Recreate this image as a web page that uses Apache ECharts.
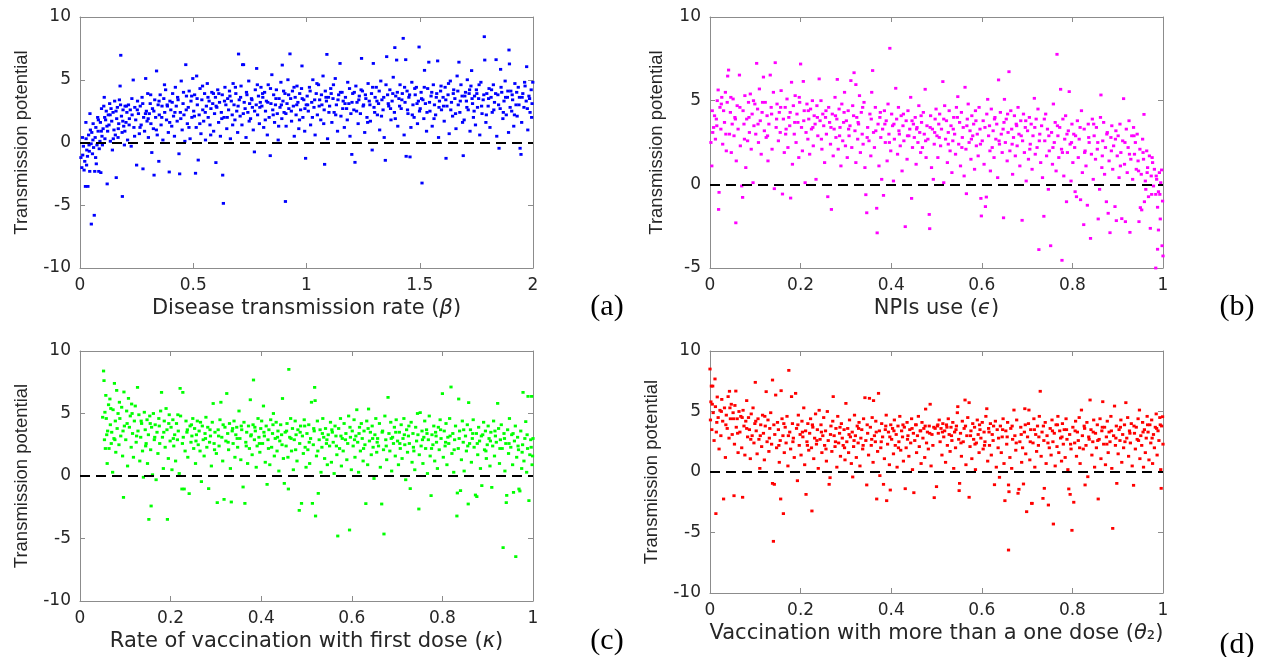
<!DOCTYPE html>
<html><head><meta charset="utf-8">
<script src="https://cdn.jsdelivr.net/npm/echarts@6/dist/echarts.min.js"></script>
<style>html,body{margin:0;padding:0;background:#fff}#c{width:1265px;height:657px}</style>
</head><body><div id="c"></div>
<script>
// ---------- data ----------
const panelTags = ['(a)', '(b)', '(c)', '(d)'];
const yTitle = 'Transmission potential';
const xTitles = [
  'Disease transmission rate ({i|β})',
  'NPIs use ({i|ϵ})',
  'Rate of vaccination with first dose ({i|κ})',
  'Vaccination with more than a one dose ({i|θ}₂)'
];
const xRanges = [[0, 2, 0.5], [0, 1, 0.2], [0, 1, 0.2], [0, 1, 0.2]];
const yRanges = [[-10, 10, 5], [-5, 10, 5], [-10, 10, 5], [-10, 10, 5]];
const seriesColors = ['#0000ff', '#ff00ff', '#00ff00', '#ff0000'];
const refLevel = 0;

const ptsA = [
[0.004,-1.2],[0.008,-2.0],[0.012,-1.0],[0.015,-0.3],[0.018,-2.2],[0.021,-1.5],[0.024,-3.5],[0.027,0.3],[0.03,-0.6],[0.033,-1.1],[0.035,-3.5],[0.038,0.6],[0.04,-0.2],[0.043,-2.3],[0.046,1.0],[0.049,-0.1],[0.05,-6.5],[0.052,0.8],[0.055,-0.9],[0.058,1.5],[0.06,-0.4],[0.063,-5.8],[0.065,-2.3],[0.067,0.4],[0.07,1.2],[0.072,-1.7],[0.075,-0.2],[0.078,2.0],[0.08,0.9],[0.083,-2.3],[0.085,-0.5],[0.088,0.1],[0.09,1.6],[0.092,-2.4],[0.095,2.7],[0.097,0.5],[0.099,-0.2],[0.044,2.3],[0.026,1.6],
[0.102,1.1],[0.105,2.9],[0.107,3.6],[0.11,0.3],[0.113,1.8],[0.116,2.5],[0.12,-3.3],[0.122,0.9],[0.125,2.2],[0.128,1.4],[0.131,3.1],[0.134,0.1],[0.137,2.7],[0.14,1.7],[0.143,-0.6],[0.146,2.4],[0.15,1.0],[0.153,3.3],[0.156,0.6],[0.16,-2.8],[0.162,1.9],[0.165,2.8],[0.168,0.4],[0.171,1.5],[0.174,3.4],[0.177,4.5],[0.18,6.95],[0.183,2.1],[0.186,0.8],[0.187,-4.3],[0.19,2.6],[0.193,1.3],[0.196,-0.2],[0.199,2.9],
[0.203,1.6],[0.207,2.4],[0.21,0.2],[0.214,3.0],[0.218,1.9],[0.222,2.6],[0.226,-0.3],[0.23,2.2],[0.235,4.98],[0.238,1.2],[0.242,2.8],[0.246,1.8],[0.25,-1.8],[0.254,3.3],[0.258,2.3],[0.262,0.7],[0.266,2.9],[0.27,1.4],[0.274,3.6],[0.278,-2.1],[0.281,2.0],[0.285,0.9],[0.29,5.1],[0.293,2.5],[0.296,1.7],[0.299,3.9],
[0.302,0.4],[0.306,2.3],[0.31,3.1],[0.313,1.5],[0.317,-0.8],[0.32,2.7],[0.324,1.1],[0.327,-2.6],[0.33,3.4],[0.334,2.0],[0.338,5.7],[0.341,0.6],[0.345,3.0],[0.348,-1.5],[0.35,2.2],[0.354,3.8],[0.358,1.4],[0.362,2.9],[0.366,0.2],[0.37,3.5],[0.374,2.4],[0.378,4.2],[0.382,1.8],[0.386,2.9],[0.39,0.8],[0.394,-2.35],[0.397,3.3],
[0.401,2.6],[0.405,1.3],[0.409,3.9],[0.413,2.1],[0.417,0.5],[0.421,4.4],[0.425,2.9],[0.429,1.7],[0.433,3.4],[0.437,-0.9],[0.44,-2.5],[0.443,2.4],[0.447,4.9],[0.451,1.0],[0.455,3.1],[0.459,2.2],[0.463,0.1],[0.467,6.2],[0.47,3.7],[0.474,1.5],[0.478,2.8],[0.482,4.1],[0.486,0.3],[0.49,3.3],[0.494,2.0],[0.498,5.1],
[0.502,2.5],[0.506,3.8],[0.51,-2.45],[0.513,1.2],[0.515,5.3],[0.518,3.0],[0.522,-1.4],[0.526,2.2],[0.53,4.3],[0.534,0.7],[0.538,3.4],[0.542,2.6],[0.546,1.7],[0.55,3.9],[0.554,0.2],[0.558,2.9],[0.562,4.7],[0.566,2.0],[0.57,3.3],[0.574,1.4],[0.578,2.7],[0.582,4.0],[0.586,3.1],[0.59,0.9],[0.594,2.3],[0.598,3.6],
[0.6,-1.6],[0.604,2.8],[0.608,4.2],[0.612,1.6],[0.616,3.2],[0.62,0.5],[0.624,2.4],[0.628,3.8],[0.63,-2.6],[0.633,-4.85],[0.636,2.0],[0.64,4.4],[0.644,3.0],[0.648,1.1],[0.652,3.5],[0.656,2.6],[0.66,4.1],[0.664,0.3],[0.668,3.3],[0.672,2.2],[0.676,4.7],[0.68,3.0],[0.684,1.8],[0.688,3.9],[0.692,2.5],[0.696,0.8],[0.7,7.05],
[0.703,3.4],[0.707,2.1],[0.711,4.5],[0.715,1.4],[0.718,6.2],[0.722,6.2],[0.725,3.2],[0.729,2.7],[0.733,0.4],[0.737,3.8],[0.741,2.4],[0.745,4.9],[0.749,3.1],[0.753,1.9],[0.757,3.5],[0.761,2.8],[0.765,1.0],[0.77,-0.75],[0.774,4.2],[0.778,3.0],[0.78,5.9],[0.784,2.2],[0.788,3.7],[0.792,1.5],[0.796,3.2],[0.799,4.4],
[0.803,2.9],[0.807,3.6],[0.811,1.2],[0.815,4.0],[0.819,2.5],[0.823,3.3],[0.827,0.6],[0.831,4.6],[0.835,2.0],[0.84,-1.05],[0.843,3.1],[0.847,5.4],[0.851,2.6],[0.855,3.8],[0.859,1.6],[0.863,3.0],[0.867,4.2],[0.871,2.3],[0.875,0.2],[0.879,3.5],[0.883,2.8],[0.887,4.8],[0.891,1.9],[0.893,6.17],[0.896,3.3],
[0.901,2.4],[0.905,3.9],[0.907,-4.7],[0.91,1.3],[0.914,3.1],[0.918,5.0],[0.922,2.7],[0.927,7.06],[0.93,3.5],[0.934,1.7],[0.938,4.1],[0.942,2.9],[0.946,0.5],[0.95,3.6],[0.954,2.2],[0.958,4.5],[0.962,3.2],[0.966,1.1],[0.97,3.9],[0.974,2.6],[0.978,4.3],[0.98,6.1],[0.984,2.0],[0.988,3.4],[0.992,0.9],[0.996,-1.26],[0.999,3.0],
[1.003,3.7],[1.008,2.5],[1.013,4.4],[1.018,1.4],[1.023,3.2],[1.028,5.0],[1.033,2.8],[1.038,0.6],[1.043,3.9],[1.048,2.2],[1.053,4.6],[1.058,3.4],[1.063,1.8],[1.068,3.0],[1.073,5.3],[1.078,2.6],[1.08,-1.74],[1.083,4.1],[1.088,3.3],[1.09,7.02],[1.093,0.3],[1.097,3.6],
[1.102,2.9],[1.107,4.3],[1.112,1.6],[1.117,3.5],[1.122,2.4],[1.127,5.1],[1.132,3.0],[1.137,0.9],[1.142,3.8],[1.148,6.3],[1.152,2.1],[1.157,4.0],[1.162,3.3],[1.167,1.2],[1.172,3.6],[1.177,2.7],[1.182,4.8],[1.187,3.1],[1.192,0.5],[1.196,2.3],[1.2,-0.95],
[1.204,3.9],[1.209,2.6],[1.214,-1.58],[1.218,4.5],[1.223,3.2],[1.228,1.5],[1.233,3.7],[1.238,2.3],[1.243,6.7],[1.247,4.1],[1.252,3.0],[1.257,0.8],[1.262,3.5],[1.267,2.0],[1.272,4.7],[1.277,3.3],[1.282,1.7],[1.287,3.9],[1.29,-0.6],[1.295,6.3],[1.298,2.8],
[1.303,3.6],[1.308,4.4],[1.313,2.2],[1.318,3.1],[1.323,1.0],[1.328,4.9],[1.333,3.4],[1.338,2.6],[1.343,0.4],[1.348,-1.42],[1.354,6.84],[1.358,3.8],[1.363,2.9],[1.368,4.2],[1.373,1.8],[1.378,3.3],[1.383,5.2],[1.388,2.4],[1.39,7.56],[1.394,3.7],[1.398,6.57],
[1.403,1.3],[1.408,3.5],[1.413,4.6],[1.418,2.7],[1.423,3.9],[1.427,8.3],[1.431,0.6],[1.435,3.2],[1.438,6.6],[1.44,-1.1],[1.444,4.1],[1.448,2.3],[1.452,3.6],[1.457,-1.15],[1.461,1.2],[1.465,4.8],[1.47,3.0],[1.475,2.0],[1.48,3.8],[1.485,4.4],[1.49,1.5],[1.494,3.3],[1.497,7.61],
[1.502,2.7],[1.506,4.0],[1.51,-3.23],[1.514,3.4],[1.518,1.9],[1.521,5.75],[1.525,3.1],[1.53,0.9],[1.535,4.3],[1.54,6.4],[1.545,2.5],[1.55,3.7],[1.555,1.3],[1.56,4.6],[1.565,3.0],[1.57,2.2],[1.575,3.9],[1.579,6.5],[1.583,0.4],[1.587,3.3],[1.592,4.1],[1.596,2.6],
[1.603,3.6],[1.608,1.7],[1.612,4.4],[1.616,-1.26],[1.62,2.9],[1.625,3.8],[1.63,0.7],[1.635,4.9],[1.64,3.2],[1.645,2.1],[1.65,4.2],[1.655,3.5],[1.66,1.1],[1.665,5.3],[1.67,3.0],[1.673,6.4],[1.677,2.4],[1.682,4.6],[1.687,3.7],[1.692,-1.05],[1.696,1.8],
[1.702,4.0],[1.706,3.3],[1.71,5.0],[1.714,2.6],[1.718,3.9],[1.722,0.9],[1.726,4.5],[1.729,5.73],[1.733,3.1],[1.737,2.0],[1.742,3.7],[1.746,1.4],[1.75,4.2],[1.755,2.8],[1.76,3.5],[1.765,0.6],[1.77,4.8],[1.775,2.3],[1.78,3.4],[1.785,8.43],[1.787,6.57],[1.792,1.6],[1.796,3.9],
[1.802,2.9],[1.806,4.3],[1.81,1.2],[1.815,3.6],[1.82,2.4],[1.825,4.6],[1.83,3.2],[1.837,6.6],[1.84,0.5],[1.845,3.8],[1.85,-0.46],[1.855,2.7],[1.857,5.83],[1.862,4.0],[1.867,1.9],[1.872,3.3],[1.877,4.9],[1.882,2.2],[1.887,3.6],[1.892,0.8],[1.894,7.37],[1.896,6.26],
[1.902,4.1],[1.906,2.5],[1.91,3.4],[1.915,1.3],[1.92,4.7],[1.925,3.0],[1.93,2.1],[1.935,4.4],[1.94,3.6],[1.943,-0.46],[1.947,-0.95],[1.95,1.6],[1.955,3.9],[1.96,2.8],[1.965,4.5],[1.97,3.3],[1.972,6.04],[1.977,1.0],[1.982,3.7],[1.987,2.4],[1.992,4.2],[1.996,3.1],[1.999,4.8],
[0.011,0.4],[0.029,-1.8],[0.041,-0.7],[0.057,0.2],[0.069,-1.2],[0.081,1.8],[0.094,0.9],[0.109,2.0],[0.119,1.3],[0.133,2.2],[0.147,0.3],[0.159,2.5],[0.169,1.1],[0.179,3.0],[0.189,1.7],[0.198,0.9],
[0.205,2.9],[0.217,1.4],[0.229,3.5],[0.241,0.5],[0.253,2.6],[0.265,1.2],[0.277,3.1],[0.289,2.3],[0.301,1.9],[0.312,3.8],[0.326,2.5],[0.337,1.0],[0.349,3.3],[0.361,2.0],[0.373,4.6],[0.385,3.0],[0.396,1.6],[0.407,3.2],[0.419,2.4],[0.431,3.6],[0.445,1.9],[0.457,4.0],[0.469,2.6],[0.481,1.2],[0.493,3.7],[0.505,2.1],[0.517,3.5],[0.529,1.5],[0.541,4.5],[0.553,2.4],[0.565,3.6],[0.577,0.6],[0.589,3.9],[0.601,2.9],[0.613,3.9],[0.626,1.9],[0.638,3.3],[0.65,2.0],[0.662,3.7],[0.674,1.4],[0.686,4.4],[0.698,2.9],[0.709,3.6],[0.721,2.3],[0.735,4.0],[0.747,1.7],[0.759,3.4],[0.771,2.5],[0.783,4.6],[0.794,2.8],[0.806,3.9],[0.818,1.8],[0.829,3.2],[0.841,4.3],[0.853,2.2],[0.865,3.5],[0.877,1.3],[0.889,3.0],[0.899,4.1],[0.909,2.3],[0.921,3.8],[0.933,2.5],[0.945,4.4],[0.957,3.0],[0.969,1.8],[0.981,3.5],[0.993,2.7],
[1.005,3.0],[1.016,4.1],[1.026,2.0],[1.036,3.4],[1.046,4.7],[1.056,2.9],[1.066,3.8],[1.076,1.5],[1.086,3.6],[1.099,2.4],[1.109,3.9],[1.119,4.6],[1.129,2.2],[1.139,3.4],[1.15,4.0],[1.16,2.7],[1.17,3.1],[1.18,1.8],[1.19,4.3],[1.201,3.2],[1.211,4.0],[1.221,2.5],[1.231,3.4],[1.241,4.2],[1.25,2.9],[1.26,3.8],[1.27,1.6],[1.28,3.0],[1.292,4.4],[1.301,2.4],[1.311,3.3],[1.321,4.1],[1.331,2.1],[1.341,3.6],[1.351,4.6],[1.361,3.1],[1.371,2.7],[1.381,3.9],[1.392,1.9],[1.401,4.0],[1.411,2.9],[1.421,3.4],[1.433,4.4],[1.446,2.6],[1.455,3.8],[1.467,2.2],[1.478,4.3],[1.488,3.1],[1.499,2.5],[1.508,3.5],[1.52,4.4],[1.532,2.4],[1.543,3.2],[1.553,4.0],[1.563,1.9],[1.573,3.6],[1.585,2.8],[1.594,4.5],[1.605,2.9],[1.615,3.4],[1.627,4.7],[1.637,2.6],[1.648,3.9],[1.658,2.3],[1.668,4.1],[1.679,3.3],[1.689,1.6],[1.699,3.7],[1.708,2.8],[1.72,4.2],[1.731,3.5],[1.74,2.5],[1.752,3.9],[1.762,4.6],[1.773,2.9],[1.783,3.8],[1.794,2.2],[1.804,3.5],[1.817,4.2],[1.827,2.6],[1.835,3.9],[1.848,3.0],[1.859,4.4],[1.869,2.4],[1.879,3.6],[1.889,4.1],[1.899,2.8],[1.908,3.8],[1.918,2.2],[1.928,4.0],[1.938,3.0],[1.952,3.6],[1.963,4.8],[1.975,2.7],[1.985,3.5],[1.994,2.0]
];

const ptsB = [
[0.002,2.5],[0.004,1.1],[0.006,3.1],[0.008,3.4],[0.01,4.1],[0.012,2.7],[0.014,3.9],[0.016,5.0],[0.018,5.64],[0.019,-1.5],[0.02,-0.48],[0.022,4.6],[0.024,3.3],[0.026,5.2],[0.028,2.4],[0.03,4.4],[0.032,3.7],[0.034,5.5],[0.036,2.0],[0.038,4.9],[0.039,6.47],[0.041,6.83],[0.043,3.0],[0.045,4.3],[0.047,1.9],[0.049,3.6],
[0.051,5.1],[0.053,2.9],[0.055,4.0],[0.057,-2.3],[0.058,1.4],[0.06,4.7],[0.062,3.3],[0.065,6.53],[0.067,2.3],[0.07,-0.1],[0.072,-0.78],[0.073,4.4],[0.075,3.6],[0.077,5.3],[0.079,1.0],[0.081,3.9],[0.083,2.6],[0.085,4.9],[0.087,3.1],[0.089,5.4],[0.091,2.1],[0.093,4.2],[0.095,0.1],[0.097,3.5],[0.099,4.8],
[0.101,3.0],[0.103,7.23],[0.105,4.5],[0.107,2.5],[0.109,5.7],[0.111,3.8],[0.113,1.8],[0.115,4.3],[0.118,6.41],[0.12,3.2],[0.122,4.9],[0.124,2.8],[0.126,4.1],[0.128,1.4],[0.13,3.6],[0.133,6.53],[0.135,4.6],[0.137,2.1],[0.14,5.5],[0.142,-0.26],[0.144,7.27],[0.146,3.4],[0.148,4.8],
[0.151,2.6],[0.153,4.3],[0.155,3.1],[0.157,5.6],[0.16,-0.58],[0.162,3.9],[0.164,1.9],[0.166,4.6],[0.168,3.3],[0.17,5.1],[0.172,2.2],[0.174,4.0],[0.176,3.5],[0.178,-0.82],[0.18,6.1],[0.182,1.2],[0.184,4.7],[0.186,3.0],[0.188,5.3],[0.19,2.5],[0.192,4.2],[0.194,3.7],[0.196,1.6],[0.198,4.9],
[0.2,7.19],[0.202,3.4],[0.204,2.0],[0.206,6.15],[0.208,4.4],[0.21,0.1],[0.212,3.1],[0.214,4.8],[0.216,2.7],[0.218,3.9],[0.22,1.8],[0.222,4.5],[0.224,3.3],[0.226,5.0],[0.228,2.3],[0.23,4.1],[0.232,3.6],[0.234,0.3],[0.236,4.7],[0.238,2.9],[0.241,6.3],[0.243,3.8],[0.245,5.0],[0.247,2.1],[0.249,4.2],
[0.251,3.5],[0.253,1.3],[0.255,4.0],[0.257,3.0],[0.26,-0.74],[0.262,4.6],[0.264,3.7],[0.266,2.4],[0.268,-1.5],[0.27,4.2],[0.272,1.7],[0.274,3.3],[0.276,5.2],[0.278,2.8],[0.28,3.9],[0.281,6.27],[0.283,2.1],[0.285,4.5],[0.287,3.4],[0.289,1.1],[0.291,4.8],[0.293,2.6],[0.295,3.7],[0.297,5.5],[0.299,2.3],
[0.301,3.8],[0.303,1.6],[0.305,4.4],[0.307,2.9],[0.309,3.5],[0.311,6.2],[0.313,2.2],[0.315,4.7],[0.318,6.67],[0.32,3.2],[0.322,1.3],[0.322,5.96],[0.324,4.0],[0.326,2.7],[0.328,3.6],[0.33,5.3],[0.332,1.9],[0.334,4.3],[0.336,3.0],[0.338,2.4],[0.34,4.9],[0.342,1.0],[0.344,-0.62],[0.346,-1.7],[0.348,3.4],
[0.351,2.6],[0.353,4.2],[0.355,1.7],[0.357,5.5],[0.359,6.8],[0.361,3.1],[0.363,2.2],[0.365,4.6],[0.368,-1.43],[0.369,-2.9],[0.371,3.6],[0.373,1.1],[0.375,4.0],[0.377,2.8],[0.379,0.3],[0.381,3.3],[0.383,-0.66],[0.385,4.4],[0.387,2.5],[0.389,3.8],[0.391,1.4],[0.393,4.8],[0.395,3.0],[0.397,8.13],[0.399,2.0],
[0.401,4.2],[0.403,3.5],[0.405,0.2],[0.407,2.7],[0.41,5.74],[0.412,3.9],[0.414,1.8],[0.416,4.6],[0.418,3.0],[0.42,2.3],[0.422,4.1],[0.424,0.8],[0.426,3.5],[0.428,2.6],[0.431,-2.53],[0.433,3.8],[0.435,1.5],[0.437,4.4],[0.439,2.9],[0.441,3.3],[0.443,5.2],[0.445,-0.84],[0.447,2.2],[0.449,3.6],
[0.451,2.8],[0.453,4.0],[0.455,1.2],[0.457,3.4],[0.459,2.5],[0.461,4.7],[0.463,3.1],[0.465,1.9],[0.467,3.7],[0.469,2.2],[0.471,4.3],[0.473,3.0],[0.475,5.68],[0.477,1.6],[0.479,3.5],[0.481,2.7],[0.484,-1.8],[0.485,-2.65],[0.487,4.1],[0.489,1.0],[0.491,3.3],[0.493,0.3],[0.495,2.4],[0.497,3.9],[0.499,4.5],
[0.501,2.9],[0.503,1.6],[0.505,3.6],[0.507,4.2],[0.509,2.3],[0.511,3.3],[0.514,6.14],[0.516,0.1],[0.518,4.7],[0.52,2.7],[0.522,3.8],[0.524,1.3],[0.526,3.1],[0.528,4.4],[0.53,2.0],[0.532,3.5],[0.534,0.7],[0.536,2.6],[0.538,4.0],[0.54,3.0],[0.542,1.8],[0.544,4.6],[0.547,5.24],[0.549,2.4],
[0.551,3.7],[0.553,1.1],[0.555,4.3],[0.557,2.8],[0.559,3.4],[0.561,0.5],[0.563,5.8],[0.565,2.1],[0.566,-0.56],[0.568,3.9],[0.57,4.8],[0.572,2.5],[0.574,3.2],[0.576,1.5],[0.578,4.1],[0.58,2.9],[0.582,3.6],[0.584,0.9],[0.586,4.4],[0.588,2.3],[0.59,3.0],[0.592,1.7],[0.594,4.6],[0.596,3.3],[0.598,-0.84],[0.599,-1.89],
[0.601,2.6],[0.603,3.8],[0.605,1.2],[0.608,-1.33],[0.61,-0.76],[0.611,4.2],[0.613,5.08],[0.615,2.9],[0.617,3.5],[0.619,0.8],[0.621,4.5],[0.623,2.2],[0.625,3.2],[0.627,1.6],[0.629,4.0],[0.631,2.7],[0.633,3.6],[0.635,0.4],[0.637,6.24],[0.639,2.4],[0.641,4.3],[0.643,3.0],[0.645,1.9],[0.648,-2.0],[0.649,3.7],
[0.65,5.08],[0.652,2.5],[0.654,3.9],[0.656,1.4],[0.658,3.1],[0.66,6.73],[0.662,2.0],[0.664,4.4],[0.666,3.3],[0.668,0.6],[0.67,2.8],[0.672,4.1],[0.674,1.7],[0.676,3.6],[0.678,2.3],[0.68,4.6],[0.682,3.0],[0.684,1.1],[0.686,3.8],[0.689,-2.15],[0.69,2.6],[0.692,4.2],[0.694,1.9],[0.696,3.4],[0.698,0.2],
[0.701,3.2],[0.703,1.5],[0.705,4.0],[0.707,2.4],[0.709,3.6],[0.711,0.9],[0.713,2.9],[0.716,5.14],[0.718,1.8],[0.72,3.9],[0.722,2.2],[0.724,4.5],[0.726,-3.9],[0.728,3.0],[0.73,1.3],[0.732,3.5],[0.734,0.4],[0.737,-1.91],[0.739,2.6],[0.741,4.2],[0.743,1.7],[0.745,3.3],[0.747,-0.3],[0.749,2.0],
[0.752,-3.67],[0.754,3.1],[0.756,1.2],[0.758,4.8],[0.76,2.5],[0.762,3.7],[0.764,0.8],[0.766,7.77],[0.768,2.9],[0.77,1.6],[0.772,3.4],[0.774,5.68],[0.776,2.1],[0.777,-4.54],[0.779,3.9],[0.781,0.5],[0.783,2.7],[0.785,4.1],[0.787,-1.04],[0.789,1.9],[0.791,3.2],[0.793,5.54],[0.795,2.4],[0.797,0.2],[0.799,3.6],
[0.801,1.3],[0.803,3.0],[0.805,2.2],[0.806,-0.44],[0.809,-0.74],[0.811,3.8],[0.813,1.6],[0.815,2.7],[0.818,-0.92],[0.82,4.4],[0.822,0.7],[0.825,-2.41],[0.826,3.3],[0.828,2.0],[0.83,1.1],[0.833,-1.25],[0.835,3.6],[0.837,2.5],[0.84,-3.23],[0.842,1.8],[0.844,3.9],[0.846,0.3],[0.848,2.9],
[0.851,1.5],[0.853,3.4],[0.855,2.1],[0.857,-2.07],[0.86,-0.3],[0.862,4.0],[0.863,5.34],[0.865,1.0],[0.867,2.6],[0.869,3.7],[0.871,0.6],[0.873,2.2],[0.875,-1.04],[0.877,3.1],[0.879,-1.73],[0.881,1.4],[0.883,-2.89],[0.885,2.8],[0.887,3.5],[0.889,0.9],[0.891,2.3],[0.894,-1.33],[0.896,3.2],[0.897,-2.17],[0.899,1.7],
[0.901,2.9],[0.903,0.4],[0.905,3.6],[0.907,1.9],[0.909,-2.05],[0.911,2.6],[0.913,5.12],[0.915,1.2],[0.917,-2.23],[0.919,3.3],[0.921,0.7],[0.923,2.2],[0.925,3.8],[0.927,-2.87],[0.929,1.5],[0.931,2.9],[0.933,0.3],[0.935,3.4],[0.937,1.8],[0.939,2.5],[0.941,0.9],[0.943,3.0],[0.945,1.4],[0.947,-2.23],[0.949,2.1],
[0.95,-1.39],[0.952,0.6],[0.953,-1.53],[0.955,2.7],[0.957,1.5],[0.958,4.18],[0.959,-1.04],[0.961,0.2],[0.962,-0.3],[0.964,2.0],[0.966,1.0],[0.968,-0.74],[0.97,1.7],[0.972,-2.63],[0.974,0.5],[0.975,-0.6],[0.977,1.3],[0.979,-0.1],[0.981,0.9],[0.984,-0.6],[0.984,-5.0],[0.986,0.3],[0.988,-3.88],[0.988,-1.37],[0.99,-2.73],[0.99,-0.44],[0.992,0.7],[0.994,-2.07],[0.995,0.1],[0.997,0.86],[0.998,-3.67],[1.0,-4.28],[0.999,-1.0],
[0.005,4.4],[0.015,3.5],[0.025,4.8],[0.035,3.0],[0.046,5.2],[0.056,3.9],[0.066,4.6],[0.076,2.7],[0.086,4.0],[0.096,5.0],[0.106,3.6],[0.116,4.9],[0.127,2.9],[0.136,4.2],[0.147,3.9],[0.156,4.6],[0.167,3.0],[0.177,4.3],[0.187,3.7],[0.197,5.2],[0.207,3.8],[0.217,4.4],[0.227,3.4],[0.237,4.0],[0.246,2.7],[0.256,4.4],[0.267,3.4],[0.277,4.1],[0.286,2.9],[0.296,4.3],[0.306,3.3],[0.317,4.1],[0.327,3.7],[0.337,4.6],[0.347,2.8],[0.356,3.9],[0.366,3.2],[0.376,4.3],[0.386,3.6],[0.396,2.5],[0.406,3.6],[0.417,3.2],[0.427,4.2],[0.436,2.9],[0.446,3.8],[0.456,3.3],[0.466,4.1],[0.476,2.6],[0.486,3.4],[0.496,3.1],
[0.506,2.8],[0.516,3.9],[0.526,2.4],[0.537,3.3],[0.546,4.0],[0.556,2.2],[0.567,3.5],[0.577,2.7],[0.587,3.8],[0.597,2.4],[0.607,3.4],[0.618,2.0],[0.628,3.9],[0.638,2.6],[0.647,3.3],[0.657,4.2],[0.667,2.4],[0.677,3.5],[0.687,2.9],[0.697,3.8],[0.706,2.1],[0.717,3.4],[0.727,2.6],[0.738,3.9],[0.748,2.9],[0.757,2.2],[0.767,3.5],[0.778,1.9],[0.788,3.0],[0.798,2.5],
[0.807,2.9],[0.817,3.4],[0.827,1.9],[0.836,2.8],[0.847,3.6],[0.856,2.5],[0.866,1.7],[0.876,3.0],[0.886,2.0],[0.895,2.7],[0.906,1.1],[0.916,2.5],[0.926,1.8],[0.936,2.9],[0.946,0.8],[0.956,1.9],[0.965,0.7],[0.976,1.6],[0.985,0.5],[0.993,-0.6]
];

const ptsC = [
[0.05,4.7],[0.052,8.4],[0.053,7.63],[0.054,2.9],[0.055,5.1],[0.056,2.2],[0.057,6.45],[0.058,4.6],[0.06,1.0],[0.061,3.6],[0.063,5.7],[0.064,2.2],[0.066,6.16],[0.067,4.1],[0.069,2.6],[0.07,3.5],[0.072,0.3],[0.073,5.3],[0.075,3.0],[0.076,7.41],[0.078,4.4],[0.079,1.9],[0.081,6.85],[0.082,3.8],[0.084,5.0],[0.086,2.5],[0.088,4.6],[0.09,3.2],[0.092,5.5],[0.094,1.6],[0.096,-1.71],[0.097,6.72],[0.098,4.0],
[0.101,2.9],[0.103,5.2],[0.105,0.8],[0.107,6.21],[0.109,3.9],[0.111,4.8],[0.113,2.3],[0.114,5.76],[0.116,3.4],[0.118,1.5],[0.12,4.4],[0.122,5.6],[0.124,2.7],[0.127,7.09],[0.128,3.6],[0.13,4.9],[0.132,1.2],[0.134,3.1],[0.136,4.2],[0.138,2.0],[0.14,-0.1],[0.142,5.1],[0.144,3.7],[0.146,2.6],[0.148,4.5],[0.149,1.0],
[0.151,3.3],[0.152,-3.47],[0.154,4.8],[0.156,2.1],[0.157,-2.4],[0.158,3.9],[0.16,0.1],[0.162,5.0],[0.164,2.9],[0.166,4.1],[0.168,-0.3],[0.17,3.5],[0.172,1.8],[0.174,4.6],[0.176,2.6],[0.178,5.2],[0.18,6.69],[0.182,3.1],[0.184,0.6],[0.186,4.4],[0.188,2.3],[0.19,5.4],[0.192,3.7],[0.193,-3.47],[0.195,1.4],[0.197,4.9],[0.199,2.8],
[0.201,3.9],[0.203,0.5],[0.205,4.5],[0.207,2.4],[0.209,3.3],[0.211,1.2],[0.213,4.2],[0.215,2.9],[0.217,3.6],[0.219,0.2],[0.221,7.01],[0.222,4.8],[0.225,-1.04],[0.227,6.69],[0.228,3.1],[0.23,-1.04],[0.232,2.0],[0.234,4.4],[0.236,3.5],[0.238,1.5],[0.241,-1.41],[0.243,4.0],[0.245,2.7],[0.247,3.2],[0.249,4.6],
[0.251,2.2],[0.253,3.8],[0.255,1.0],[0.257,3.3],[0.259,4.4],[0.261,2.5],[0.263,3.6],[0.265,2.0],[0.268,-0.45],[0.27,4.0],[0.272,2.9],[0.274,1.6],[0.276,3.4],[0.278,4.7],[0.28,2.3],[0.282,3.9],[0.284,-1.01],[0.286,2.7],[0.288,3.2],[0.29,0.8],[0.292,4.3],[0.294,5.8],[0.296,2.6],[0.298,3.5],
[0.301,1.8],[0.303,-2.13],[0.305,3.7],[0.307,2.4],[0.309,4.5],[0.311,5.9],[0.313,3.1],[0.315,1.2],[0.318,-1.87],[0.32,3.9],[0.322,2.8],[0.324,6.6],[0.326,3.4],[0.328,2.1],[0.33,4.2],[0.332,0.6],[0.334,-2.08],[0.336,3.6],[0.338,2.6],[0.34,4.4],[0.342,1.5],[0.344,3.3],[0.346,3.9],[0.348,2.3],
[0.351,5.2],[0.353,3.0],[0.355,1.3],[0.357,3.7],[0.36,-0.88],[0.362,4.3],[0.364,-2.19],[0.366,2.7],[0.368,3.5],[0.37,1.0],[0.372,4.0],[0.374,2.2],[0.376,6.1],[0.378,3.3],[0.38,1.7],[0.382,4.1],[0.383,7.68],[0.385,2.9],[0.387,3.6],[0.389,0.7],[0.391,2.4],[0.393,4.6],[0.395,3.1],[0.397,1.9],[0.399,3.8],
[0.401,4.4],[0.403,2.6],[0.405,5.6],[0.407,3.2],[0.409,1.1],[0.411,4.0],[0.413,-0.67],[0.415,2.9],[0.417,3.7],[0.419,0.9],[0.421,4.5],[0.423,2.3],[0.425,3.4],[0.427,5.0],[0.429,1.6],[0.431,3.0],[0.433,4.3],[0.435,2.0],[0.437,3.6],[0.439,0.4],[0.441,2.8],[0.443,4.1],[0.445,3.3],[0.447,6.2],[0.449,1.4],
[0.451,-0.59],[0.453,3.5],[0.455,2.4],[0.457,4.2],[0.459,1.5],[0.46,-1.04],[0.461,8.53],[0.463,3.1],[0.465,4.6],[0.467,2.0],[0.469,3.8],[0.471,0.5],[0.473,2.9],[0.475,4.4],[0.477,3.3],[0.479,1.2],[0.481,3.7],[0.484,-2.75],[0.485,2.6],[0.487,4.0],[0.489,-2.19],[0.491,3.2],[0.493,1.8],[0.495,4.5],[0.497,2.3],[0.499,0.7],
[0.501,3.4],[0.503,2.1],[0.505,4.1],[0.507,1.0],[0.509,3.0],[0.511,5.9],[0.513,-2.19],[0.515,2.5],[0.517,3.6],[0.518,7.09],[0.519,6.03],[0.52,-3.2],[0.522,1.6],[0.524,4.4],[0.526,-1.39],[0.528,2.9],[0.53,3.7],[0.532,0.3],[0.534,2.3],[0.536,4.6],[0.538,3.1],[0.54,1.4],[0.542,3.8],[0.544,2.6],[0.546,0.9],[0.548,3.3],
[0.551,2.4],[0.553,4.3],[0.555,1.1],[0.557,3.5],[0.559,2.7],[0.561,0.2],[0.563,4.0],[0.565,3.2],[0.567,1.7],[0.569,-4.8],[0.571,3.8],[0.573,2.2],[0.575,4.6],[0.577,0.8],[0.579,3.0],[0.581,2.0],[0.583,4.2],[0.587,3.4],[0.589,1.3],[0.591,2.6],[0.593,4.8],[0.595,-4.32],[0.597,3.1],[0.599,0.5],
[0.601,3.6],[0.603,2.4],[0.605,4.5],[0.607,1.5],[0.609,3.2],[0.611,5.3],[0.613,2.7],[0.615,0.3],[0.617,3.9],[0.619,2.0],[0.621,4.2],[0.623,3.0],[0.625,1.2],[0.627,3.6],[0.629,2.5],[0.631,-2.21],[0.633,4.4],[0.635,0.9],[0.637,5.36],[0.639,2.8],[0.641,3.5],[0.643,1.7],[0.645,4.0],[0.647,2.3],[0.649,-0.2],
[0.651,3.3],[0.653,4.6],[0.655,1.9],[0.657,3.0],[0.659,2.4],[0.661,4.2],[0.663,0.7],[0.666,-2.24],[0.668,3.6],[0.67,2.1],[0.671,-4.64],[0.673,4.8],[0.675,2.9],[0.677,1.3],[0.68,6.29],[0.682,3.4],[0.684,2.0],[0.686,4.3],[0.688,0.4],[0.69,3.1],[0.692,2.6],[0.694,3.9],[0.696,1.6],[0.698,4.5],
[0.701,2.8],[0.703,0.9],[0.705,3.5],[0.707,2.2],[0.709,4.1],[0.711,1.4],[0.713,3.0],[0.715,4.6],[0.717,2.5],[0.719,-0.3],[0.721,3.7],[0.723,1.9],[0.725,3.2],[0.727,2.6],[0.729,-1.01],[0.731,4.3],[0.733,1.1],[0.735,3.4],[0.737,2.0],[0.739,0.5],[0.741,3.9],[0.743,2.8],[0.745,5.0],[0.748,-2.64],[0.749,1.7],
[0.751,5.07],[0.753,2.4],[0.755,3.6],[0.757,1.0],[0.759,3.1],[0.761,4.4],[0.763,2.2],[0.765,3.7],[0.767,0.2],[0.769,2.9],[0.771,4.8],[0.773,1.6],[0.775,-1.57],[0.777,3.3],[0.779,2.5],[0.781,4.0],[0.783,1.2],[0.785,3.5],[0.787,2.7],[0.789,0.6],[0.791,3.9],[0.793,2.1],[0.795,4.5],[0.797,3.0],[0.8,6.59],
[0.802,1.5],[0.804,3.6],[0.806,2.4],[0.808,4.2],[0.81,0.9],[0.812,3.1],[0.814,2.6],[0.816,4.6],[0.819,7.12],[0.821,1.8],[0.823,3.4],[0.825,0.3],[0.827,2.9],[0.829,4.0],[0.832,-3.2],[0.833,-1.36],[0.835,2.2],[0.836,6.16],[0.838,3.6],[0.84,-1.17],[0.842,1.3],[0.844,4.4],[0.846,2.7],[0.848,0.4],
[0.851,3.2],[0.853,2.0],[0.855,4.1],[0.857,-2.24],[0.858,5.87],[0.86,2.6],[0.862,3.7],[0.864,1.1],[0.866,3.0],[0.868,4.5],[0.87,2.3],[0.873,-1.52],[0.875,3.4],[0.876,-1.65],[0.878,1.7],[0.88,3.9],[0.882,2.8],[0.884,0.6],[0.887,-0.77],[0.889,3.3],[0.891,4.3],[0.893,2.1],[0.895,3.6],[0.897,1.4],[0.899,2.5],
[0.901,4.0],[0.903,3.0],[0.905,0.8],[0.907,3.5],[0.909,-0.91],[0.911,2.4],[0.913,4.4],[0.915,1.6],[0.917,3.2],[0.919,2.7],[0.922,5.81],[0.924,3.8],[0.926,1.0],[0.928,2.9],[0.93,4.1],[0.932,2.2],[0.934,-5.73],[0.936,3.4],[0.938,0.4],[0.94,2.6],[0.941,-2.13],[0.942,-1.55],[0.944,3.7],[0.946,1.8],[0.948,4.6],
[0.951,2.3],[0.953,3.3],[0.955,0.9],[0.957,-1.31],[0.959,2.8],[0.961,4.0],[0.962,-6.45],[0.964,1.5],[0.966,3.1],[0.968,2.1],[0.969,-1.04],[0.971,-1.2],[0.973,3.6],[0.975,0.6],[0.977,2.5],[0.978,6.69],[0.98,1.2],[0.982,3.0],[0.984,4.35],[0.986,0.3],[0.988,2.2],[0.989,6.37],[0.991,-1.97],[0.993,1.7],[0.995,2.9],[0.997,6.37],[0.998,0.9],[0.999,1.6],[1.0,3.0],
[0.059,3.3],[0.068,5.4],[0.077,2.9],[0.087,5.9],[0.095,3.6],[0.104,4.2],[0.115,5.0],[0.125,3.2],[0.135,4.4],[0.145,2.4],[0.155,4.2],[0.165,3.1],[0.175,4.0],[0.185,3.5],[0.196,4.2],[0.206,3.0],[0.216,4.9],[0.226,2.6],[0.237,3.7],[0.246,4.1],[0.256,2.8],[0.266,4.3],[0.277,3.0],[0.287,3.7],[0.297,2.1],[0.306,3.2],[0.316,4.1],[0.327,2.7],[0.337,3.8],[0.347,3.0],[0.356,4.0],[0.367,2.4],[0.377,3.2],[0.386,3.9],[0.396,2.6],[0.406,3.5],[0.416,2.2],[0.426,4.1],[0.436,3.1],[0.446,2.5],[0.456,3.6],[0.466,3.0],[0.476,2.1],[0.486,3.5],[0.496,4.0],[0.506,2.7],[0.516,3.8],[0.525,2.0],[0.535,3.4],[0.545,2.9],[0.556,3.7],[0.566,2.4],[0.576,3.2],[0.586,2.9],[0.596,3.9],[0.606,2.9],[0.616,3.4],[0.626,2.2],[0.636,3.8],[0.646,3.0],[0.656,2.7],[0.667,3.5],[0.676,2.4],[0.687,3.0],[0.697,3.5],[0.706,2.6],[0.716,3.3],[0.726,4.0],[0.736,2.3],[0.746,3.3],[0.756,2.9],[0.766,3.4],[0.776,2.2],[0.786,3.2],[0.796,3.7],[0.807,2.7],[0.817,3.2],[0.826,2.1],[0.837,3.0],[0.847,3.7],[0.856,2.4],[0.867,3.4],[0.877,2.6],[0.886,3.2],[0.896,2.0],[0.906,2.8],[0.916,3.6],[0.927,2.2],[0.937,3.0],[0.947,2.6],[0.956,3.4],[0.967,2.4],[0.976,1.9],[0.987,3.3],[0.996,2.3]
];

const ptsD = [
[0.0,8.51],[0.001,4.3],[0.002,5.8],[0.003,7.1],[0.004,3.5],[0.006,7.1],[0.007,4.9],[0.009,2.6],[0.011,7.69],[0.012,5.4],[0.013,-3.44],[0.014,3.3],[0.016,6.2],[0.018,4.5],[0.02,1.9],[0.022,5.1],[0.024,3.0],[0.026,6.0],[0.028,4.2],[0.03,-2.23],[0.032,5.3],[0.034,1.2],[0.036,4.7],[0.038,3.6],[0.04,6.23],[0.042,2.8],[0.043,6.67],[0.045,4.4],[0.047,5.6],[0.049,3.1],
[0.051,4.9],[0.053,-1.96],[0.054,2.3],[0.055,5.5],[0.057,6.69],[0.058,3.7],[0.06,4.4],[0.062,1.6],[0.064,5.0],[0.066,3.3],[0.068,4.6],[0.07,2.0],[0.072,-2.09],[0.073,5.1],[0.075,3.8],[0.077,1.4],[0.079,4.2],[0.081,5.9],[0.083,2.9],[0.085,4.5],[0.087,3.5],[0.089,1.1],[0.091,4.8],[0.093,3.0],[0.095,5.3],[0.097,2.4],[0.099,4.0],
[0.1,7.41],[0.102,3.4],[0.104,1.5],[0.106,4.4],[0.108,2.7],[0.11,0.3],[0.112,3.9],[0.114,2.1],[0.116,4.7],[0.118,3.2],[0.12,1.0],[0.122,3.8],[0.124,6.64],[0.126,2.5],[0.128,4.3],[0.13,1.7],[0.132,3.6],[0.134,4.9],[0.136,2.3],[0.138,7.6],[0.138,-0.94],[0.14,-5.73],[0.142,-1.02],[0.143,3.1],[0.145,6.36],[0.147,2.0],[0.149,4.1],
[0.151,3.5],[0.153,0.8],[0.155,2.6],[0.156,-2.23],[0.157,6.72],[0.159,4.4],[0.161,3.0],[0.162,-3.44],[0.164,1.6],[0.166,3.7],[0.168,2.4],[0.17,4.6],[0.172,0.5],[0.174,8.4],[0.176,3.3],[0.178,1.9],[0.18,6.23],[0.182,4.0],[0.184,2.8],[0.186,1.2],[0.189,6.5],[0.191,3.6],[0.193,-0.72],[0.195,4.7],[0.197,2.2],[0.199,3.1],
[0.201,1.4],[0.203,4.2],[0.205,2.9],[0.207,5.3],[0.209,0.6],[0.211,3.4],[0.212,-1.85],[0.214,2.5],[0.216,4.0],[0.218,1.8],[0.22,3.2],[0.222,4.4],[0.224,2.0],[0.225,-3.22],[0.227,3.7],[0.229,1.1],[0.231,2.8],[0.233,4.8],[0.235,2.3],[0.237,3.5],[0.239,0.3],[0.241,5.1],[0.243,2.7],[0.245,3.9],[0.247,1.6],[0.249,3.0],
[0.251,4.5],[0.253,2.2],[0.255,3.4],[0.257,0.9],[0.259,5.0],[0.261,2.6],[0.263,-1.02],[0.265,-0.47],[0.267,3.8],[0.269,1.7],[0.271,4.2],[0.272,6.23],[0.274,3.0],[0.276,2.1],[0.278,3.6],[0.28,0.4],[0.282,4.6],[0.284,2.4],[0.286,3.2],[0.288,1.3],[0.29,4.0],[0.292,2.8],[0.294,2.2],[0.296,3.5],[0.298,1.0],[0.3,5.67],
[0.302,2.5],[0.304,3.6],[0.306,1.6],[0.308,4.3],[0.31,2.9],[0.312,0.7],[0.314,3.3],[0.315,-0.41],[0.317,2.1],[0.319,4.7],[0.321,3.0],[0.323,1.2],[0.325,3.8],[0.327,2.4],[0.329,4.1],[0.331,0.5],[0.333,2.8],[0.335,3.5],[0.337,1.9],[0.339,4.4],[0.342,6.14],[0.344,2.6],[0.346,-1.07],[0.348,3.2],
[0.35,1.4],[0.352,6.09],[0.354,3.7],[0.356,2.2],[0.358,4.5],[0.36,0.8],[0.361,5.9],[0.363,3.0],[0.365,2.5],[0.366,4.2],[0.368,-2.23],[0.37,1.7],[0.372,6.5],[0.374,3.4],[0.375,-0.3],[0.377,2.0],[0.379,4.0],[0.381,2.9],[0.383,-1.02],[0.385,1.1],[0.387,3.5],[0.389,4.7],[0.39,-2.37],[0.392,2.3],[0.394,3.3],[0.396,0.6],[0.398,-1.49],[0.399,3.9],
[0.401,2.7],[0.403,3.6],[0.405,1.5],[0.407,4.3],[0.409,2.2],[0.411,3.1],[0.413,0.4],[0.415,3.8],[0.417,2.5],[0.419,4.6],[0.421,1.8],[0.423,3.4],[0.425,2.9],[0.427,0.9],[0.429,3.7],[0.431,-1.38],[0.433,2.0],[0.435,4.1],[0.437,3.0],[0.439,1.3],[0.441,3.5],[0.443,2.4],[0.445,4.4],[0.447,0.2],[0.449,3.2],
[0.45,-1.71],[0.452,2.6],[0.454,3.9],[0.456,1.6],[0.458,3.0],[0.46,4.6],[0.462,2.1],[0.464,3.4],[0.466,0.7],[0.468,4.1],[0.47,2.8],[0.472,3.6],[0.474,1.2],[0.476,5.2],[0.478,2.4],[0.48,3.3],[0.482,1.9],[0.484,3.8],[0.486,5.6],[0.488,0.5],[0.49,3.1],[0.492,2.2],[0.495,-2.12],[0.497,3.6],[0.5,-1.21],
[0.502,3.8],[0.504,3.2],[0.506,4.3],[0.508,2.5],[0.51,3.6],[0.512,1.4],[0.514,4.0],[0.516,2.9],[0.518,3.4],[0.52,0.8],[0.522,3.9],[0.524,2.2],[0.526,4.4],[0.528,3.1],[0.53,1.7],[0.532,3.7],[0.534,2.6],[0.536,4.1],[0.538,0.3],[0.54,3.3],[0.542,2.0],[0.544,3.8],[0.546,4.9],[0.547,5.4],[0.549,2.7],
[0.55,-1.54],[0.551,-0.94],[0.553,3.2],[0.555,1.3],[0.557,4.2],[0.559,2.5],[0.561,3.6],[0.563,5.95],[0.565,0.6],[0.567,3.0],[0.569,4.5],[0.572,5.73],[0.572,-2.09],[0.574,2.1],[0.576,3.4],[0.578,1.1],[0.58,4.0],[0.582,2.7],[0.584,3.7],[0.586,0.2],[0.588,2.4],[0.59,4.3],[0.592,3.1],[0.594,1.6],[0.596,3.5],[0.598,2.8],
[0.601,4.1],[0.603,1.9],[0.605,3.3],[0.607,2.5],[0.609,4.6],[0.611,5.23],[0.613,0.9],[0.615,3.6],[0.617,2.2],[0.619,4.0],[0.621,1.4],[0.623,3.1],[0.625,2.6],[0.628,-1.05],[0.63,4.2],[0.632,0.4],[0.634,3.5],[0.636,2.0],[0.639,-0.44],[0.641,3.8],[0.643,1.6],[0.645,2.9],[0.647,4.4],[0.649,0.7],
[0.651,-2.37],[0.653,3.4],[0.655,2.3],[0.657,4.1],[0.659,-6.45],[0.659,-1.07],[0.66,-1.63],[0.662,1.2],[0.664,3.6],[0.666,0.3],[0.668,2.7],[0.671,5.12],[0.673,3.0],[0.675,1.8],[0.677,4.3],[0.68,-1.76],[0.682,-1.43],[0.684,2.5],[0.686,3.7],[0.688,0.8],[0.69,2.0],[0.692,-0.99],[0.694,3.3],[0.695,5.23],[0.697,1.5],[0.699,-3.28],
[0.701,2.9],[0.703,4.0],[0.704,5.12],[0.706,1.0],[0.708,3.5],[0.71,-2.59],[0.711,-2.59],[0.713,2.4],[0.715,4.4],[0.717,0.4],[0.719,3.1],[0.721,1.7],[0.723,3.8],[0.725,2.2],[0.727,4.6],[0.729,6.67],[0.731,1.3],[0.733,3.3],[0.735,-2.18],[0.737,2.6],[0.738,-1.35],[0.74,4.1],[0.742,0.7],[0.744,3.0],[0.747,-2.73],[0.749,2.0],
[0.751,3.6],[0.753,1.4],[0.755,4.3],[0.757,2.5],[0.758,-4.3],[0.76,3.2],[0.762,0.5],[0.764,3.9],[0.766,2.1],[0.768,4.6],[0.77,1.6],[0.772,3.4],[0.774,2.8],[0.776,0.9],[0.778,4.0],[0.78,2.3],[0.782,3.5],[0.784,1.2],[0.786,4.4],[0.788,2.7],[0.79,0.2],[0.792,-1.4],[0.794,3.1],[0.795,-1.85],[0.797,1.9],[0.799,-4.82],
[0.801,3.7],[0.803,-2.5],[0.805,2.4],[0.807,4.2],[0.809,1.3],[0.811,3.3],[0.813,2.6],[0.815,4.5],[0.817,0.7],[0.82,5.12],[0.822,3.0],[0.824,1.9],[0.826,3.8],[0.828,-1.07],[0.83,2.2],[0.832,4.1],[0.834,-0.39],[0.836,2.9],[0.839,5.95],[0.841,3.5],[0.843,1.4],[0.845,2.5],[0.847,4.3],[0.849,0.4],
[0.851,3.2],[0.853,2.0],[0.855,3.9],[0.857,-2.23],[0.859,2.7],[0.861,4.4],[0.863,1.1],[0.865,3.4],[0.867,5.81],[0.869,2.3],[0.871,3.7],[0.873,0.6],[0.875,2.9],[0.877,4.2],[0.879,1.6],[0.881,3.3],[0.883,2.5],[0.885,4.6],[0.887,0.3],[0.889,-4.66],[0.891,3.0],[0.893,5.45],[0.895,2.2],[0.897,3.8],[0.898,-0.94],
[0.901,1.5],[0.903,3.5],[0.905,2.6],[0.907,4.3],[0.909,0.8],[0.911,3.1],[0.913,2.0],[0.915,3.9],[0.918,5.73],[0.92,2.8],[0.922,4.5],[0.924,1.3],[0.926,3.4],[0.928,2.4],[0.93,4.0],[0.932,0.5],[0.935,-1.1],[0.937,3.2],[0.939,1.9],[0.941,3.7],[0.943,2.7],[0.945,4.4],[0.948,5.12],[0.949,1.1],
[0.951,3.0],[0.953,2.2],[0.955,4.1],[0.957,0.4],[0.959,3.5],[0.961,1.6],[0.963,2.8],[0.965,4.6],[0.967,3.3],[0.969,1.0],[0.971,3.9],[0.973,2.4],[0.975,4.3],[0.977,0.7],[0.979,3.1],[0.981,2.0],[0.983,3.7],[0.985,4.8],[0.987,1.4],[0.989,3.4],[0.991,2.6],[0.993,4.5],[0.995,0.2],[0.996,-1.35],[0.997,3.8],[0.999,4.57],[1.0,2.3],
[0.005,5.6],[0.015,4.1],[0.025,5.0],[0.035,3.9],[0.044,5.3],[0.052,4.4],[0.061,3.2],[0.071,4.5],[0.081,3.6],[0.09,2.7],[0.101,4.2],[0.111,3.0],[0.121,4.6],[0.131,2.8],[0.141,3.9],[0.152,2.2],[0.163,4.0],[0.173,3.0],[0.183,2.5],[0.194,3.9],[0.204,3.3],[0.215,2.2],[0.226,3.9],[0.236,2.6],[0.246,3.3],[0.256,1.9],[0.266,3.1],[0.277,2.5],[0.287,3.7],[0.297,2.0],[0.307,3.1],[0.318,2.6],[0.328,3.6],[0.338,2.2],[0.347,3.9],[0.357,2.7],[0.367,3.3],[0.378,2.5],[0.388,3.8],[0.397,2.9],[0.406,3.4],[0.416,2.0],[0.426,3.9],[0.436,2.7],[0.446,3.6],[0.455,3.9],[0.465,3.4],[0.475,3.8],[0.485,3.2],[0.494,3.7],[0.503,3.9],[0.513,3.3],[0.523,3.7],[0.533,3.0],[0.543,3.5],[0.554,2.4],[0.564,3.8],[0.575,3.0],[0.585,2.3],[0.595,3.9],[0.606,2.2],[0.616,3.3],[0.626,3.8],[0.637,2.8],[0.646,3.5],[0.656,2.9],[0.667,3.8],[0.676,2.4],[0.687,3.1],[0.696,3.9],[0.707,2.5],[0.716,3.5],[0.726,2.9],[0.736,3.8],[0.746,2.4],[0.756,3.4],[0.767,3.9],[0.777,2.9],[0.787,3.5],[0.796,2.3],[0.806,3.4],[0.816,2.0],[0.827,3.6],[0.837,2.7],[0.846,3.3],[0.856,2.6],[0.866,3.7],[0.876,2.3],[0.886,3.4],[0.896,2.8],[0.906,3.7],[0.916,2.5],[0.927,3.2],[0.936,3.8],[0.946,2.6],[0.956,3.3],[0.966,3.9],[0.976,2.8],[0.986,3.6],[0.994,3.9]
];

// ---------- chart ----------
const allPts = [ptsA, ptsB, ptsC, ptsD];
const AX = '#8c8c8c';
const TICK_FONT = 'DejaVu Sans';
const grids = [
  {left: 80, top: 17, width: 453, height: 251},
  {left: 710, top: 17, width: 453, height: 251},
  {left: 80, top: 351, width: 453, height: 250},
  {left: 710, top: 351, width: 453, height: 242}
];
const yNameGaps = [49, 44, 49, 49];
const tagPos = [[607, 307], [1237, 307], [607, 641], [1237, 645]];

const chart = echarts.init(document.getElementById('c'), null, {renderer: 'canvas'});
const xAxes = [], yAxes = [], series = [];
const lineCommon = {show: true, onZero: false, lineStyle: {color: AX, width: 1}};
const tickCommon = {show: true, inside: true, length: 5, lineStyle: {color: AX, width: 1}};

for (let i = 0; i < 4; i++) {
  const [x0, x1, xs] = xRanges[i];
  const [y0, y1, ys] = yRanges[i];
  xAxes.push({
    gridIndex: i, type: 'value', position: 'bottom', min: x0, max: x1, interval: xs,
    axisLine: lineCommon, axisTick: tickCommon, splitLine: {show: false},
    axisLabel: {color: '#262626', fontFamily: TICK_FONT, fontSize: 17, margin: 9},
    name: xTitles[i], nameLocation: 'middle', nameGap: 30,
    nameTextStyle: {color: '#262626', fontFamily: TICK_FONT, fontSize: 21,
      rich: {i: {fontStyle: 'italic', fontFamily: TICK_FONT, fontSize: 21, color: '#262626'}}}
  });
  xAxes.push({
    gridIndex: i, type: 'value', position: 'top', min: x0, max: x1, interval: xs,
    axisLine: lineCommon, axisTick: tickCommon, splitLine: {show: false}, axisLabel: {show: false}
  });
  yAxes.push({
    gridIndex: i, type: 'value', position: 'left', min: y0, max: y1, interval: ys,
    axisLine: lineCommon, axisTick: tickCommon, splitLine: {show: false},
    axisLabel: {color: '#262626', fontFamily: TICK_FONT, fontSize: 17, margin: 9},
    name: yTitle, nameLocation: 'middle', nameGap: yNameGaps[i],
    nameTextStyle: {color: '#262626', fontFamily: "'Liberation Sans', Arial, sans-serif", fontSize: 18.5}
  });
  yAxes.push({
    gridIndex: i, type: 'value', position: 'right', min: y0, max: y1, interval: ys,
    axisLine: lineCommon, axisTick: tickCommon, splitLine: {show: false}, axisLabel: {show: false}
  });
  series.push({
    type: 'scatter', xAxisIndex: 2 * i, yAxisIndex: 2 * i,
    data: allPts[i], symbol: 'rect', symbolSize: [3.2, 2.8],
    itemStyle: {color: seriesColors[i], opacity: 1},
    emphasis: {disabled: true}, silent: true, animation: false,
    markLine: {
      silent: true, symbol: ['none', 'none'], label: {show: false}, animation: false,
      lineStyle: {color: '#000', type: [10, 6], width: 2},
      emphasis: {disabled: true},
      data: [{yAxis: refLevel}]
    }
  });
}

const graphic = panelTags.map((t, i) => ({
  type: 'text', x: tagPos[i][0], y: tagPos[i][1], silent: true,
  style: {text: t, font: '30px "Liberation Serif", "Times New Roman", serif', fill: '#000',
    align: 'center', verticalAlign: 'middle'}
}));

chart.setOption({
  backgroundColor: '#fff',
  animation: false,
  grid: grids.map(g => Object.assign({outerBoundsMode: 'none', containLabel: false}, g)),
  xAxis: xAxes,
  yAxis: yAxes,
  series: series,
  graphic: graphic
});
</script>
</body></html>
